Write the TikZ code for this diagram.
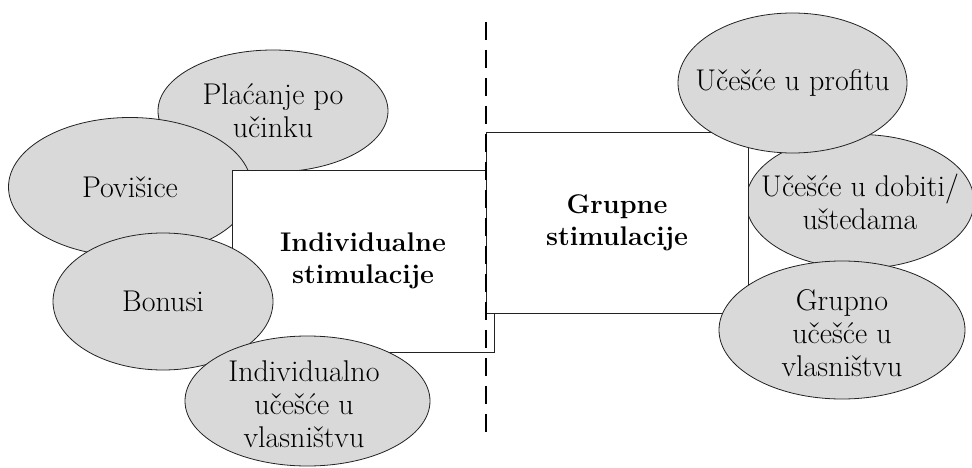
\documentclass[tikz,border=0pt]{standalone}
\usepackage{fontspec}
\usetikzlibrary{shapes.geometric}
\definecolor{ellfill}{HTML}{D9D9D9}
\definecolor{edge}{HTML}{222222}
\tikzset{
  oval/.style={ellipse, draw=edge, fill=ellfill, line width=0.8pt, inner sep=0pt},
  ovaltext/.style={inner sep=0pt, align=center, font=\fontsize{30}{33}\selectfont},
  mainbox/.style={draw=edge, fill=white, line width=0.8pt, inner sep=0pt,
    align=center, font=\fontsize{27}{32}\selectfont\bfseries},
  divider/.style={line width=2.4pt, dash pattern=on 18pt off 10pt}
}
\begin{document}
\begin{tikzpicture}[x=1pt,y=-1pt]
\useasboundingbox (0,0) rectangle (972,468);
% left side
\node[oval, minimum width=230pt, minimum height=122pt] (pl) at (273,111) {};
\node[ovaltext] (plt) at (pl.center) {Plaćanje po\\učinku};
\node[oval, minimum width=243pt, minimum height=139pt] (pov) at (130,187) {};
\node[ovaltext] (povt) at (pov.center) {Povišice};
\node[mainbox, minimum width=262pt, minimum height=182pt] (ind) at (363,261) {Individualne\\stimulacije};
\node[oval, minimum width=220pt, minimum height=137pt] (bon) at (163,301.5) {};
\node[ovaltext] (bont) at (bon.center) {Bonusi};
\node[oval, minimum width=245pt, minimum height=130pt] (iuv) at (307.5,401) {};
\node[ovaltext] (iuvt) at (304,404) {Individualno\\učešće u\\vlasništvu};
% right side
\node[oval, minimum width=228pt, minimum height=134pt] (dob) at (860,201.5) {};
\node[ovaltext] (dobt) at (dob.center) {Učešće u dobiti/\\uštedama};
\node[mainbox, minimum width=262pt, minimum height=181pt] (grp) at (617,222.5) {Grupne\\stimulacije};
\node[oval, minimum width=229pt, minimum height=140pt] (pro) at (792.5,83) {};
\node[ovaltext] (prot) at (pro.center) {Učešće u profitu};
\node[oval, minimum width=246pt, minimum height=138pt] (guv) at (842,330) {};
\node[ovaltext] (guvt) at (842,333) {Grupno\\učešće u\\vlasništvu};
% divider
\coordinate (dtop) at (486,22);
\coordinate (dbot) at (486,432);
\draw[divider] (dtop) -- (dbot);
\end{tikzpicture}
\end{document}
